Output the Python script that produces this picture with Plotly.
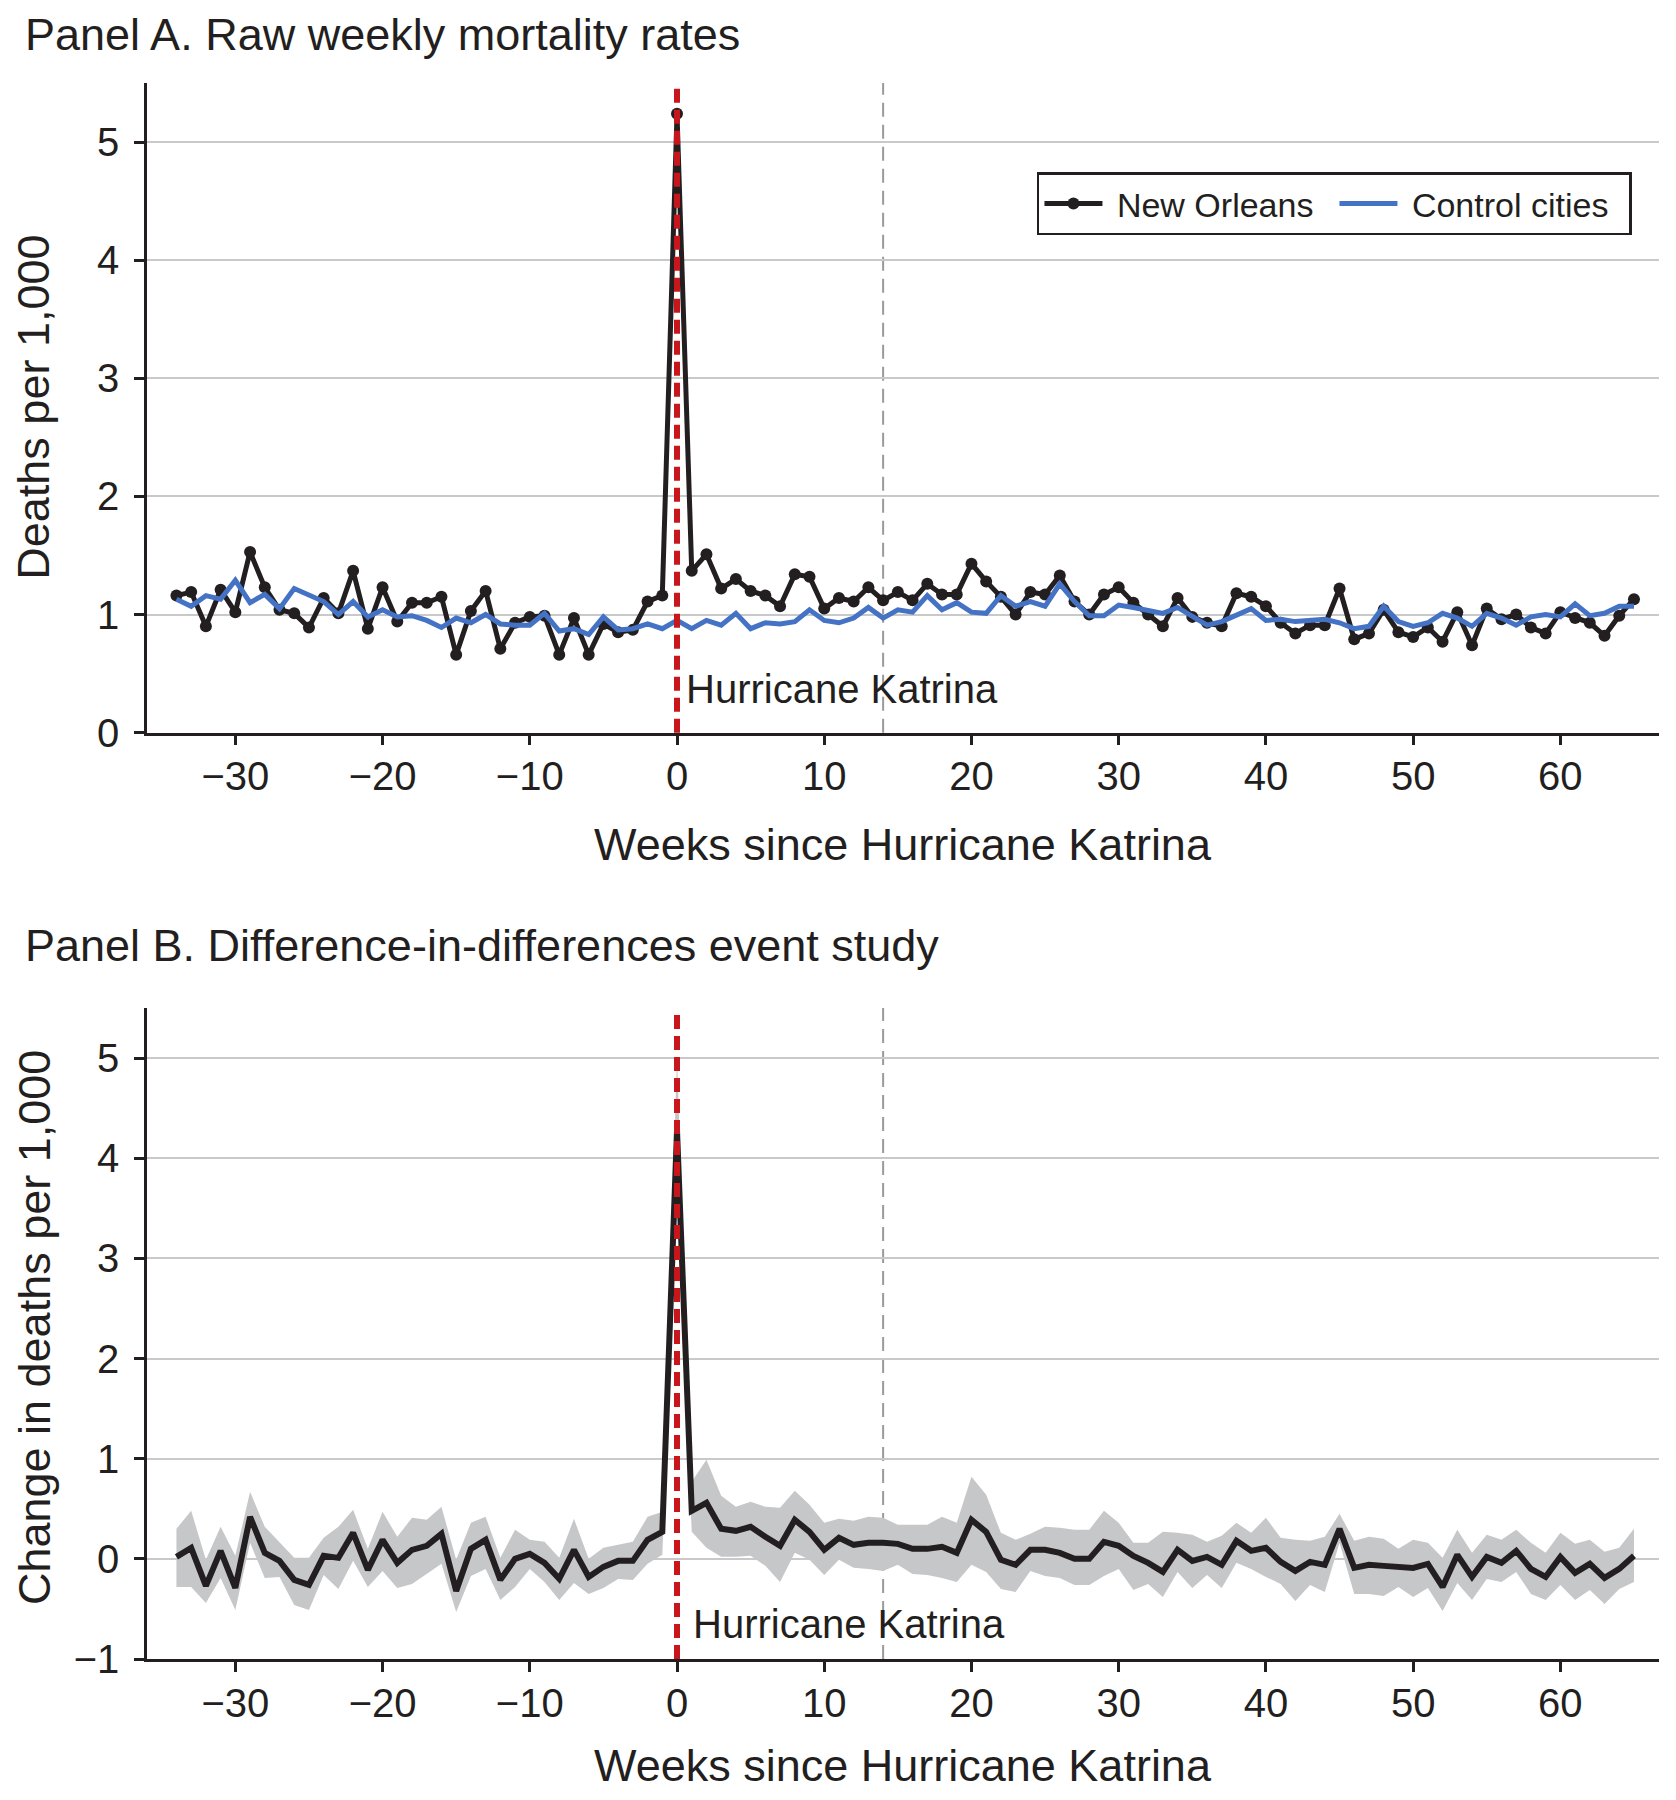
import plotly.graph_objects as go

# ---------------- data ----------------
weeks = list(range(-34, 66))

new_orleans = [
    1.16, 1.19, 0.90, 1.21, 1.02, 1.53, 1.23, 1.04, 1.01, 0.89,   # -34..-25
    1.14, 1.01, 1.37, 0.88, 1.23, 0.94, 1.10, 1.10, 1.15, 0.66,   # -24..-15
    1.03, 1.20, 0.71, 0.93, 0.98, 0.99, 0.66, 0.97, 0.66, 0.92,   # -14..-5
    0.85, 0.87, 1.11, 1.16, 5.24, 1.37, 1.51, 1.22, 1.30, 1.20,   # -4..5
    1.16, 1.07, 1.34, 1.32, 1.05, 1.14, 1.11, 1.23, 1.12, 1.19,   # 6..15
    1.12, 1.26, 1.17, 1.17, 1.43, 1.28, 1.15, 1.00, 1.19, 1.17,   # 16..25
    1.33, 1.11, 1.00, 1.17, 1.23, 1.10, 1.00, 0.90, 1.14, 0.98,   # 26..35
    0.93, 0.90, 1.18, 1.15, 1.07, 0.93, 0.84, 0.91, 0.91, 1.22,   # 36..45
    0.79, 0.84, 1.04, 0.85, 0.81, 0.89, 0.77, 1.02, 0.74, 1.05,   # 46..55
    0.96, 1.00, 0.89, 0.84, 1.02, 0.97, 0.93, 0.82, 0.99, 1.13,   # 56..65
]

control_cities = [
    1.13, 1.07, 1.16, 1.13, 1.29, 1.10, 1.17, 1.05, 1.22, 1.16,
    1.11, 1.00, 1.11, 0.98, 1.04, 0.98, 0.99, 0.95, 0.89, 0.97,
    0.93, 1.00, 0.92, 0.91, 0.91, 1.01, 0.86, 0.88, 0.83, 0.98,
    0.87, 0.88, 0.92, 0.88, 0.95, 0.88, 0.95, 0.91, 1.01, 0.88,
    0.93, 0.92, 0.94, 1.04, 0.95, 0.93, 0.97, 1.06, 0.97, 1.04,
    1.02, 1.16, 1.04, 1.10, 1.02, 1.01, 1.16, 1.07, 1.11, 1.07,
    1.26, 1.11, 0.99, 0.99, 1.08, 1.06, 1.04, 1.01, 1.06, 0.98,
    0.91, 0.94, 0.99, 1.05, 0.95, 0.96, 0.94, 0.95, 0.96, 0.93,
    0.88, 0.90, 1.07, 0.94, 0.90, 0.93, 1.01, 0.97, 0.90, 1.01,
    0.97, 0.91, 0.98, 1.00, 0.98, 1.09, 0.99, 1.01, 1.07, 1.07,
]

did_estimate = [
    0.02, 0.11, -0.27, 0.08, -0.29, 0.42, 0.06, -0.02, -0.21, -0.26,
    0.03, 0.01, 0.26, -0.11, 0.19, -0.04, 0.09, 0.13, 0.25, -0.32,
    0.10, 0.19, -0.21, 0.00, 0.05, -0.04, -0.20, 0.09, -0.18, -0.08,
    -0.02, -0.02, 0.19, 0.27, 4.28, 0.48, 0.56, 0.30, 0.28, 0.32,
    0.22, 0.13, 0.39, 0.27, 0.09, 0.21, 0.14, 0.16, 0.16, 0.15,
    0.10, 0.10, 0.12, 0.06, 0.39, 0.27, -0.01, -0.06, 0.09, 0.09,
    0.06, 0.00, 0.00, 0.17, 0.13, 0.03, -0.04, -0.13, 0.09, -0.02,
    0.02, -0.06, 0.18, 0.08, 0.11, -0.03, -0.12, -0.03, -0.06, 0.30,
    -0.09, -0.06, -0.07, -0.08, -0.09, -0.05, -0.28, 0.04, -0.18, 0.02,
    -0.04, 0.08, -0.10, -0.18, 0.02, -0.14, -0.05, -0.19, -0.10, 0.03,
]

did_upper = [
    0.30, 0.48, -0.01, 0.32, 0.03, 0.67, 0.32, 0.16, 0.01, 0.01,
    0.21, 0.32, 0.49, 0.10, 0.47, 0.22, 0.41, 0.39, 0.52, -0.01,
    0.36, 0.42, 0.01, 0.29, 0.19, 0.17, 0.01, 0.40, 0.00, 0.11,
    0.14, 0.17, 0.42, 0.47, 5.00, 0.77, 0.99, 0.63, 0.52, 0.57,
    0.52, 0.51, 0.68, 0.54, 0.36, 0.40, 0.38, 0.42, 0.41, 0.34,
    0.34, 0.34, 0.42, 0.36, 0.82, 0.64, 0.26, 0.19, 0.25, 0.32,
    0.31, 0.29, 0.29, 0.48, 0.36, 0.16, 0.16, 0.27, 0.26, 0.24,
    0.17, 0.23, 0.36, 0.26, 0.41, 0.21, 0.19, 0.18, 0.22, 0.45,
    0.18, 0.22, 0.20, 0.10, 0.19, 0.16, 0.01, 0.29, 0.06, 0.24,
    0.19, 0.29, 0.16, 0.06, 0.26, 0.15, 0.19, 0.07, 0.11, 0.30,
]

did_lower = [
    -0.28, -0.28, -0.44, -0.19, -0.51, 0.16, -0.19, -0.18, -0.46, -0.51,
    -0.16, -0.30, -0.02, -0.28, -0.12, -0.29, -0.25, -0.15, -0.05, -0.53,
    -0.17, -0.10, -0.41, -0.28, -0.10, -0.23, -0.41, -0.24, -0.35, -0.29,
    -0.20, -0.21, -0.05, 0.04, 3.60, 0.27, 0.11, 0.02, 0.02, 0.03,
    -0.07, -0.23, 0.06, -0.01, -0.16, -0.01, -0.09, -0.10, -0.12, -0.06,
    -0.15, -0.16, -0.19, -0.23, -0.06, -0.13, -0.30, -0.33, -0.12, -0.17,
    -0.19, -0.26, -0.26, -0.17, -0.10, -0.31, -0.25, -0.38, -0.13, -0.29,
    -0.16, -0.29, -0.04, -0.10, -0.18, -0.25, -0.42, -0.26, -0.33, 0.16,
    -0.35, -0.35, -0.37, -0.28, -0.38, -0.29, -0.52, -0.24, -0.41, -0.20,
    -0.23, -0.13, -0.35, -0.41, -0.26, -0.41, -0.31, -0.45, -0.30, -0.23,
]

x_ticks = [-30, -20, -10, 0, 10, 20, 30, 40, 50, 60]
y_ticks_a = [0, 1, 2, 3, 4, 5]
y_ticks_b = [-1, 0, 1, 2, 3, 4, 5]
katrina_week = 0
reference_week = 14

# ---------------- style ----------------
FONT = "Liberation Sans, Arial, Helvetica, sans-serif"
INK = "#231f20"
BLUE = "#4472c4"
RED = "#c8161d"
BAND = "#c6c7c9"
GRID = "#c9c9c9"
NB = "\u00a0"

fig = go.Figure()

# Panel A
fig.add_trace(go.Scatter(
    x=weeks, y=new_orleans, mode="lines+markers", name=NB + "New Orleans",
    line=dict(color=INK, width=5), marker=dict(color=INK, size=12),
    xaxis="x", yaxis="y"))
fig.add_trace(go.Scatter(
    x=weeks, y=control_cities, mode="lines", name=NB + "Control cities",
    line=dict(color=BLUE, width=5), xaxis="x", yaxis="y"))

# Panel B
fig.add_trace(go.Scatter(
    x=weeks, y=did_upper, mode="lines", line=dict(width=0, color=BAND),
    showlegend=False, hoverinfo="skip", xaxis="x2", yaxis="y2"))
fig.add_trace(go.Scatter(
    x=weeks, y=did_lower, mode="lines", line=dict(width=0, color=BAND),
    fill="tonexty", fillcolor=BAND, showlegend=False, hoverinfo="skip",
    xaxis="x2", yaxis="y2"))
fig.add_trace(go.Scatter(
    x=weeks, y=did_estimate, mode="lines", line=dict(color=INK, width=6),
    showlegend=False, xaxis="x2", yaxis="y2"))

xaxis_common = dict(
    range=[-36, 66.7], tickvals=x_ticks, showgrid=False, zeroline=False,
    showline=True, linecolor=INK, linewidth=2.5, ticks="outside",
    ticklen=10, tickwidth=2.5, tickcolor=INK,
    tickfont=dict(family=FONT, size=40, color=INK), ticklabelstandoff=-3,
)
yaxis_common = dict(
    showgrid=True, gridcolor=GRID, gridwidth=2, zeroline=False,
    showline=True, linecolor=INK, linewidth=2.5, ticks="outside",
    ticklen=10, tickwidth=2.5, tickcolor=INK,
    tickfont=dict(family=FONT, size=40, color=INK), ticklabelstandoff=7,
)

fig.update_layout(
    width=1676, height=1800,
    margin=dict(l=139, r=25, t=75, b=149),
    paper_bgcolor="white", plot_bgcolor="white",
    font=dict(family=FONT, color=INK),
    xaxis=dict(domain=[0, 1], anchor="y", **xaxis_common),
    yaxis=dict(domain=[0.5878, 1.0], anchor="x", range=[0, 5.5],
               tickvals=y_ticks_a, **yaxis_common),
    xaxis2=dict(domain=[0, 1], anchor="y2", **xaxis_common),
    yaxis2=dict(domain=[0, 0.413], anchor="x2", range=[-1, 5.5],
                tickvals=y_ticks_b, **yaxis_common),
    legend=dict(
        orientation="h", x=0.5886, y=0.9433, xanchor="left", yanchor="top",
        bordercolor=INK, borderwidth=2.5, bgcolor="white",
        font=dict(family=FONT, size=34, color=INK),
        itemwidth=58, traceorder="normal", entrywidth=222,
    ),
    showlegend=True,
)

# vertical reference lines
for xr, yr in (("x", "y"), ("x2", "y2")):
    fig.add_shape(type="line", xref=xr, yref=f"{yr} domain",
                  x0=reference_week, x1=reference_week, y0=0, y1=1,
                  line=dict(color="#9a9a9a", width=2, dash="14px,8px"),
                  layer="below")
    fig.add_shape(type="line", xref=xr, yref=f"{yr} domain",
                  x0=katrina_week, x1=katrina_week, y0=0, y1=1,
                  line=dict(color=RED, width=6, dash="14px,7px"),
                  layer="above")

annotations = [
    dict(text="Panel A. Raw weekly mortality rates", xref="paper", yref="paper",
         x=-0.082, y=1.031, xanchor="left", yanchor="middle", showarrow=False,
         font=dict(family=FONT, size=45, color=INK)),
    dict(text="Panel B. Difference-in-differences event study", xref="paper", yref="paper",
         x=-0.082, y=0.453, xanchor="left", yanchor="middle", showarrow=False,
         font=dict(family=FONT, size=45, color=INK)),
    dict(text="Weeks since Hurricane Katrina", xref="paper", yref="paper",
         x=0.5, y=0.517, xanchor="center", yanchor="middle", showarrow=False,
         font=dict(family=FONT, size=45, color=INK)),
    dict(text="Weeks since Hurricane Katrina", xref="paper", yref="paper",
         x=0.5, y=-0.0676, xanchor="center", yanchor="middle", showarrow=False,
         font=dict(family=FONT, size=45, color=INK)),
    dict(text="Deaths per 1,000", xref="paper", yref="paper",
         x=-0.0747, y=0.794, xanchor="center", yanchor="middle", textangle=-90,
         showarrow=False, font=dict(family=FONT, size=45, color=INK)),
    dict(text="Change in deaths per 1,000", xref="paper", yref="paper",
         x=-0.0747, y=0.21, xanchor="center", yanchor="middle", textangle=-90,
         showarrow=False, font=dict(family=FONT, size=45, color=INK)),
    dict(text="Hurricane Katrina", xref="x", yref="y", x=0.5, y=0.37,
         xanchor="left", yanchor="middle", showarrow=False,
         font=dict(family=FONT, size=40, color=INK)),
    dict(text="Hurricane Katrina", xref="x2", yref="y2", x=0.95, y=-0.65,
         xanchor="left", yanchor="middle", showarrow=False,
         font=dict(family=FONT, size=40, color=INK)),
]
fig.update_layout(annotations=annotations)

fig.write_html("out.html")
